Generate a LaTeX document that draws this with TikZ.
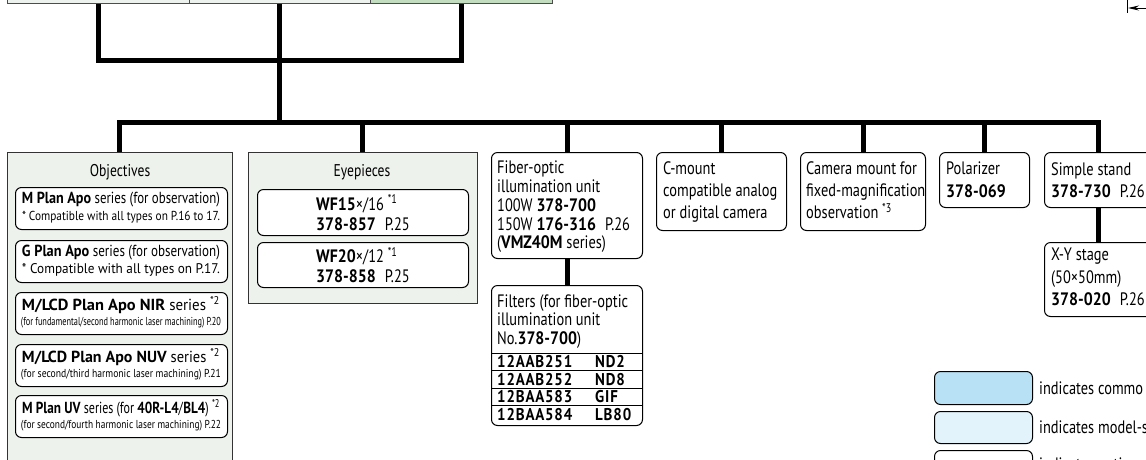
\documentclass[tikz,border=0pt]{standalone}
\usepackage{graphicx}
\usepackage{fontspec}
\setmainfont{PT Sans}[UprightFeatures={FakeStretch=0.8}, BoldFeatures={FakeStretch=0.88}]
\usetikzlibrary{arrows.meta}
\newcommand\fitw[2]{\resizebox{#1pt}{\height}{#2}}
\definecolor{panelgreen}{RGB}{237,243,236}
\definecolor{topgreen}{RGB}{195,221,193}
\definecolor{toplight}{RGB}{238,242,238}
\definecolor{legblue}{RGB}{185,225,245}
\definecolor{legpale}{RGB}{227,243,251}
\tikzset{
  conn/.style={line width=5pt, line join=miter, line cap=butt},
  panel/.style={draw=black!80, line width=0.9pt, fill=panelgreen, inner sep=0pt, anchor=north west},
  topbox/.style={draw=black!70, line width=0.8pt, inner sep=0pt, anchor=south west, minimum height=30pt},
  item/.style={draw=black, line width=1pt, rounded corners=6pt, fill=white, inner sep=0pt, anchor=north west},
  txt/.style={inner sep=0pt, align=left, anchor=north west, font=\fontsize{18}{18.7}\selectfont},
  wtxt/.style={inner sep=0pt, align=left, anchor=north west, font=\fontsize{18}{22.3}\selectfont},
  ltxt/.style={inner sep=0pt, anchor=center},
  rowtxt/.style={inner sep=0pt, anchor=west, font=\fontsize{17}{17}\selectfont\bfseries\addfontfeature{LetterSpace=5}},
  legtxt/.style={inner sep=0pt, anchor=west, font=\fontsize{18}{18}\selectfont},
}
\begin{document}
\begin{tikzpicture}[x=1pt,y=-1pt]
\clip (0,0) rectangle (1146,459);
\fill[white] (0,0) rectangle (1146,459);
% top boxes
\node[topbox, fill=toplight, minimum width=182pt] (t1) at (7,4) {};
\node[topbox, fill=toplight, minimum width=181pt] (t2) at (189,4) {};
\node[topbox, fill=topgreen, minimum width=182pt] (t3) at (370,4) {};
\coordinate (bar) at (280,60);
\coordinate (bus) at (280,122);
\draw[conn] (t1.south) |- (t3.south |- bar) -- (t3.south);
\draw[conn] (t2.south) -- (t2.south |- bus);
% main boxes
\node[panel, minimum width=225pt, minimum height=330pt] (obj) at (7,152) {};
\node[panel, minimum width=229pt, minimum height=151pt] (eye) at (248,152) {};
\node[item, minimum width=151pt, minimum height=106pt] (fib) at (491,152) {};
\node[item, minimum width=151pt, minimum height=140pt] (fil) at (491,285) {};
\node[item, minimum width=130pt, minimum height=78pt] (cm) at (656,152) {};
\node[item, minimum width=125pt, minimum height=78pt] (cam) at (800,152) {};
\node[item, minimum width=90pt, minimum height=55pt] (pol) at (939,152) {};
\node[item, minimum width=108pt, minimum height=55pt] (std) at (1044,152) {};
\node[item, minimum width=108pt, minimum height=74pt] (xy) at (1044,242) {};
% connectors
\draw[conn] (obj.north) |- (std.north |- bus) -- (std.north);
\foreach \n in {eye,fib,cm,cam,pol} \draw[conn] (\n.north) -- (\n.north |- bus);
\draw[conn] (fib.south) -- (fil.north);
\draw[conn] (std.south) -- (xy.north);
% Objectives
\node[ltxt, font=\fontsize{17}{17}\selectfont] (objt) at (120,172) {Objectives};
\node[item, minimum width=212pt, minimum height=42pt] (oa) at (15,187) {};
\node[item, minimum width=212pt, minimum height=42pt] (ob) at (15,240) {};
\node[item, minimum width=212pt, minimum height=42pt] (oc) at (15,292) {};
\node[item, minimum width=212pt, minimum height=42pt] (od) at (15,344) {};
\node[item, minimum width=212pt, minimum height=42pt] (oe) at (15,395) {};
\node[ltxt, font=\fontsize{16}{16}\selectfont] (oa1) at (121,200) {\fitw{198}{\textbf{M Plan Apo} series (for observation)}};
\node[ltxt, font=\fontsize{13}{13}\selectfont] (oa2) at (121,217) {\fitw{198}{* Compatible with all types on P.16 to 17.}};
\node[ltxt, font=\fontsize{16}{16}\selectfont] (ob1) at (121,253) {\fitw{198}{\textbf{G Plan Apo} series (for observation)}};
\node[ltxt, font=\fontsize{14}{14}\selectfont] (ob2) at (121,270) {\fitw{198}{* Compatible with all types on P.17.}};
\node[ltxt, font=\fontsize{16}{16}\selectfont] (oc1) at (121,305) {\fitw{198}{\textbf{M/LCD Plan Apo NIR} series \textsuperscript{*2}}};
\node[ltxt, font=\fontsize{11.5}{11.5}\selectfont] (oc2) at (121,323) {\fitw{200}{(for fundamental/second harmonic laser machining) P.20}};
\node[ltxt, font=\fontsize{16}{16}\selectfont] (od1) at (121,357) {\fitw{198}{\textbf{M/LCD Plan Apo NUV} series \textsuperscript{*2}}};
\node[ltxt, font=\fontsize{11.5}{11.5}\selectfont] (od2) at (121,375) {\fitw{200}{(for second/third harmonic laser machining) P.21}};
\node[ltxt, font=\fontsize{16}{16}\selectfont] (oe1) at (121,408) {\fitw{198}{\textbf{M Plan UV} series (for \textbf{40R-L4}/\textbf{BL4}) \textsuperscript{*2}}};
\node[ltxt, font=\fontsize{11.5}{11.5}\selectfont] (oe2) at (121,426) {\fitw{200}{(for second/fourth harmonic laser machining) P.22}};
% Eyepieces
\node[ltxt, font=\fontsize{17}{17}\selectfont] (eyet) at (362,172) {Eyepieces};
\node[item, minimum width=211pt, minimum height=46pt] (ea) at (257,189) {};
\node[item, minimum width=211pt, minimum height=45pt] (eb) at (257,242) {};
\node[inner sep=0pt, align=left, font=\fontsize{18}{20}\selectfont] (eat) at (ea.center) {\textbf{WF15}×/16 \textsuperscript{*1}\\\textbf{378-857}\enspace P.25};
\node[inner sep=0pt, align=left, font=\fontsize{18}{20}\selectfont] (ebt) at (eb.center) {\textbf{WF20}×/12 \textsuperscript{*1}\\\textbf{378-858}\enspace P.25};
% Fiber-optic
\node[txt] (fibt) at (497,161) {Fiber-optic\\illumination unit\\100W \textbf{378-700}\\150W \textbf{176-316}\enspace P.26\\(\textbf{VMZ40M} series)};
\node[txt] (filt) at (497,294) {Filters (for fiber-optic\\illumination unit\\No.\textbf{378-700})};
\foreach \y in {353,370.5,388,405.5} \draw[line width=1pt] (fil.west |- 0,\y) -- (fil.east |- 0,\y);
\node[rowtxt] (r1a) at (497,362) {12AAB251};
\node[rowtxt] (r1b) at (595,362) {ND2};
\node[rowtxt] (r2a) at (497,379.5) {12AAB252};
\node[rowtxt] (r2b) at (595,379.5) {ND8};
\node[rowtxt] (r3a) at (497,397) {12BAA583};
\node[rowtxt] (r3b) at (595,397) {GIF};
\node[rowtxt] (r4a) at (497,414.5) {12BAA584};
\node[rowtxt] (r4b) at (595,414.5) {LB80};
% right boxes
\node[wtxt] (cmt) at (663,161) {C-mount\\compatible analog\\or digital camera};
\node[wtxt] (camt) at (806,161) {Camera mount for\\fixed-magnification\\observation \textsuperscript{*3}};
\node[wtxt] (polt) at (946,162) {Polarizer\\\textbf{378-069}};
\node[wtxt] (stdt) at (1051,162) {Simple stand\\\textbf{378-730}\enspace P.26};
\node[wtxt] (xyt) at (1051,248) {X-Y stage\\(50×50mm)\\\textbf{378-020}\enspace P.26};
% legend
\node[item, fill=legblue, minimum width=98pt, minimum height=33pt] (l1) at (934,371) {};
\node[item, fill=legpale, minimum width=98pt, minimum height=32pt] (l2) at (934,411) {};
\node[item, minimum width=98pt, minimum height=33pt] (l3) at (934,450) {};
\node[legtxt] (l1t) at (1039,388) {indicates commo};
\node[legtxt] (l2t) at (1039,427) {indicates model-s};
\node[legtxt] (l3t) at (1039,466) {indicates optiona};
% arrow top right
\coordinate (arrE) at (1150,8);
\coordinate (arrT) at (1128,8);
\coordinate (tickA) at (1127,-1);
\coordinate (tickB) at (1127,13);
\draw[line width=1pt] (tickA) -- (tickB);
\draw[line width=1pt, -{Stealth[length=11pt,width=5pt]}] (arrE) -- (arrT);
\end{tikzpicture}
\end{document}
